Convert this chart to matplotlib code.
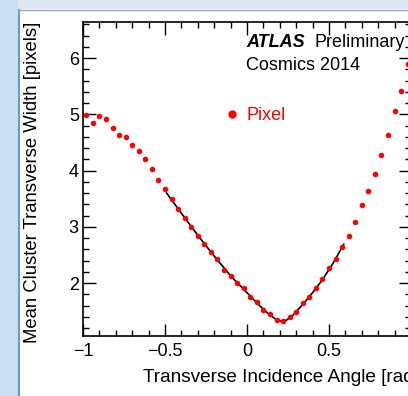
#!/usr/bin/env python3
"""Mean transverse cluster width vs incidence angle, pixel layer, cosmics 2014."""

import matplotlib
matplotlib.use("Agg")
import matplotlib.pyplot as plt
from matplotlib.patches import Rectangle
from matplotlib.ticker import MultipleLocator

plt.rcParams["font.family"] = ["Liberation Sans", "DejaVu Sans"]

# bin centres of the angle profile (rad)
angle = [-0.98, -0.94, -0.90, -0.86, -0.82, -0.78, -0.74, -0.70, -0.66, -0.62,
         -0.58, -0.54, -0.50, -0.46, -0.42, -0.38, -0.34, -0.30, -0.26, -0.22,
         -0.18, -0.14, -0.10, -0.06, -0.02, 0.02, 0.06, 0.10, 0.14, 0.18,
         0.22, 0.26, 0.30, 0.34, 0.38, 0.42, 0.46, 0.50, 0.54, 0.58,
         0.62, 0.66, 0.70, 0.74, 0.78, 0.82, 0.86, 0.90, 0.94, 0.98]

# mean cluster width in pixels
width = [4.99, 4.85, 4.97, 4.91, 4.76, 4.64, 4.59, 4.46, 4.35, 4.20,
         4.02, 3.84, 3.67, 3.49, 3.31, 3.15, 2.99, 2.84, 2.69, 2.55,
         2.42, 2.24, 2.12, 2.00, 1.92, 1.76, 1.66, 1.52, 1.45, 1.34,
         1.33, 1.40, 1.49, 1.65, 1.75, 1.91, 2.07, 2.26, 2.42, 2.65,
         2.84, 3.09, 3.39, 3.64, 3.94, 4.28, 4.63, 5.05, 5.41, 5.89]

# fitted curve nodes
fit_x = [-0.49, -0.40, -0.30, -0.20, -0.10, 0.00, 0.08, 0.14, 0.18, 0.21,
         0.24, 0.28, 0.34, 0.40, 0.46, 0.52, 0.59]
fit_y = [3.60, 3.24, 2.85, 2.48, 2.13, 1.83, 1.59, 1.43, 1.35, 1.32,
         1.34, 1.43, 1.62, 1.83, 2.06, 2.33, 2.69]

W, H = 408, 396
fig = plt.figure(figsize=(W / 100, H / 100), dpi=100)
fig.patch.set_facecolor("white")

# window frame around the canvas
fig.add_artist(Rectangle((0, 1 - 9 / H), 1, 9 / H, transform=fig.transFigure,
                         facecolor="#dfe8f1", edgecolor="none", zorder=0))
fig.add_artist(Rectangle((0, 0), 18 / W, 1, transform=fig.transFigure,
                         facecolor="#cbdff2", edgecolor="none", zorder=0))
fig.add_artist(plt.Line2D([18.5 / W, 18.5 / W], [0, 1 - 9.5 / H],
                          transform=fig.transFigure, color="#6d98cf", lw=1.5))
fig.add_artist(plt.Line2D([18.5 / W, 1], [1 - 9.5 / H, 1 - 9.5 / H],
                          transform=fig.transFigure, color="#8aa6c4", lw=1.0))

ax = fig.add_axes([83 / W, 1 - 336 / H, (411 - 83) / W, (336 - 22) / H])
ax.set_facecolor("white")

ax.plot(fit_x, fit_y, color="black", lw=1.2, zorder=2)
ax.plot(angle, width, "o", color="#ff0000", ms=4, mec="none", zorder=3)

ax.set_xlim(-1, 1)
ax.set_ylim(1.06, 6.64)
ax.xaxis.set_major_locator(MultipleLocator(0.5))
ax.xaxis.set_minor_locator(MultipleLocator(0.1))
ax.yaxis.set_major_locator(MultipleLocator(1))
ax.yaxis.set_minor_locator(MultipleLocator(0.2))
ax.set_xticks([-1, -0.5, 0, 0.5])
ax.set_xticklabels(["\u22121", "\u22120.5", "0", "0.5"])
ax.set_yticks([2, 3, 4, 5, 6])

ax.tick_params(which="both", direction="in", top=True, right=True,
               labelsize=13, width=1)
ax.tick_params(which="major", length=9)
ax.tick_params(which="minor", length=4.5)
ax.tick_params(axis="x", pad=5)
ax.tick_params(axis="y", pad=3)
for s in ax.spines.values():
    s.set_linewidth(1.2)

fig.text(143 / W, 1 - 378 / H, "Transverse Incidence Angle [rad]",
         fontsize=13.7, ha="left", va="center")
fig.text(33 / W, 1 - 22 / H, "Mean Cluster Transverse Width [pixels]",
         fontsize=13.3, ha="center", va="top", rotation=90)

fig.text(246 / W, 1 - 47 / H, "ATLAS", fontsize=13, fontweight="bold",
         fontstyle="italic", ha="left", va="baseline")
fig.text(315 / W, 1 - 47 / H, "Preliminary", fontsize=13,
         ha="left", va="baseline")
fig.text(246 / W, 1 - 70 / H, "Cosmics 2014", fontsize=13,
         ha="left", va="baseline")

# legend entry
ax.plot([-0.09], [5.0], "o", color="#ff0000", ms=6, mec="none",
        clip_on=False)
fig.text(246 / W, 1 - 120 / H, "Pixel", fontsize=13, color="#ff0000",
         ha="left", va="baseline")

fig.savefig("out.png", dpi=100)
